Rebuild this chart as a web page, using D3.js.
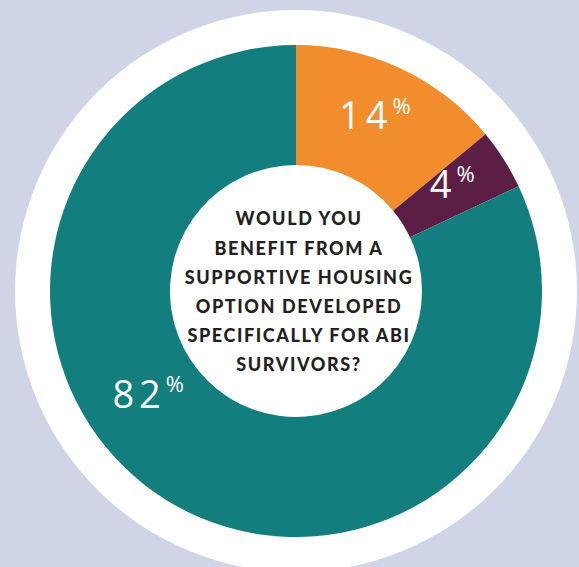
<!DOCTYPE html>
<html>
<head>
<meta charset="utf-8">
<script src="https://cdn.jsdelivr.net/npm/d3@7"></script>
<style>
  html, body { margin: 0; padding: 0; background: #cfd4e7; }
  svg { display: block; }
</style>
</head>
<body>
<svg id="chart" width="579" height="567"></svg>
<script>
// Survey answers, in drawing order clockwise from 12 o'clock
const answers = ["No", "Unsure", "Yes"];
const shares = [14, 4, 82];
const sliceColors = ["#f28d2e", "#5c1e45", "#127e7e"];

// Question printed in the hole of the ring
const questionLines = [
  "WOULD YOU",
  "BENEFIT FROM A",
  "SUPPORTIVE HOUSING",
  "OPTION DEVELOPED",
  "SPECIFICALLY FOR ABI",
  "SURVIVORS?"
];

const W = 579, H = 567;
const cx = 296, cy = 291;
const plateR = 281, outerR = 246, innerR = 126, labelR = 185;

const svg = d3.select("#chart");
svg.append("rect").attr("width", W).attr("height", H).attr("fill", "#cfd4e7");

const g = svg.append("g").attr("transform", `translate(${cx},${cy})`);

// white plate behind the ring
g.append("circle").attr("r", plateR).attr("fill", "#ffffff");

const pie = d3.pie().sort(null).value(d => d.value);
const arcs = pie(answers.map((a, i) => ({ answer: a, value: shares[i], color: sliceColors[i] })));

const arc = d3.arc().innerRadius(innerR).outerRadius(outerR);

g.selectAll("path.slice")
  .data(arcs)
  .join("path")
  .attr("class", "slice")
  .attr("d", arc)
  .attr("fill", d => d.data.color);

// labels sit at the middle of each slice; the large slice's label is nudged
// toward the lower left so it stays clear of the hole text
const labelAngle = d => {
  const mid = (d.startAngle + d.endAngle) / 2;
  return d.data.value > 50 ? mid + 0.36 : mid;
};

const labels = g.selectAll("text.pct")
  .data(arcs)
  .join("text")
  .attr("class", "pct")
  .attr("text-anchor", "middle")
  .attr("fill", "#ffffff")
  .attr("font-family", "'Open Sans', Lato, sans-serif")
  .attr("font-weight", 500)
  .attr("x", d => labelR * Math.sin(labelAngle(d)))
  .attr("y", d => -labelR * Math.cos(labelAngle(d)))
  .attr("dy", "0.36em");

labels.append("tspan")
  .attr("font-size", 38)
  .attr("letter-spacing", 5)
  .text(d => d.data.value);

labels.append("tspan")
  .attr("font-size", 22)
  .attr("dy", "-0.72em")
  .text("%");

// question in the center
const lineGap = 29.2;
const q = g.append("text")
  .attr("text-anchor", "middle")
  .attr("fill", "#231f20")
  .attr("font-family", "Lato, 'Open Sans', sans-serif")
  .attr("font-weight", 900)
  .attr("font-size", 18)
  .attr("letter-spacing", 1.6);

questionLines.forEach((line, i) => {
  q.append("tspan")
    .attr("x", 3)
    .attr("y", (i - (questionLines.length - 1) / 2) * lineGap + 1)
    .attr("dy", "0.36em")
    .text(line);
});
</script>
</body>
</html>
